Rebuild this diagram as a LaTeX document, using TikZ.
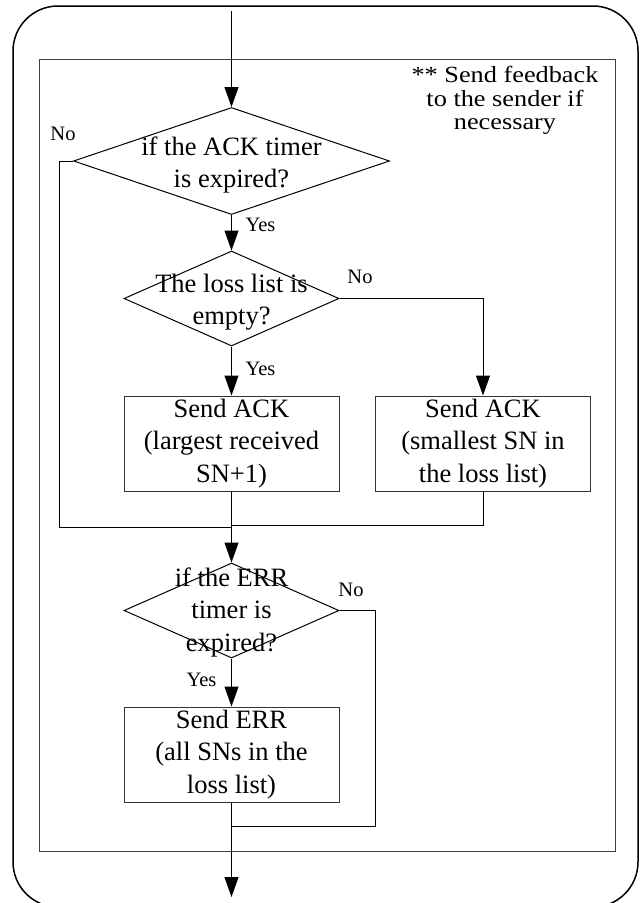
\documentclass[tikz,border=0pt]{standalone}
\usepackage{fontspec}
\setmainfont{Liberation Serif}
\usetikzlibrary{shapes.geometric,arrows.meta}
\begin{document}
\begin{tikzpicture}[x=1pt,y=-1pt,
  line/.style={draw=black,line width=1pt},
  arr/.style={line,-{Triangle[length=20pt,width=14pt]}},
  dia/.style={diamond,draw=black,line width=1pt,inner sep=0pt,minimum width=215pt,minimum height=95pt},
  proc/.style={rectangle,draw=black!80,line width=1pt,inner sep=0pt,minimum width=215pt,minimum height=95pt},
  txt/.style={align=center,font=\fontsize{26.5}{32.5}\selectfont,inner sep=0pt},
  lbl/.style={font=\fontsize{20.5}{24}\selectfont,inner sep=0pt}]
\useasboundingbox (0,0) rectangle (641,903);
\clip (0,0) rectangle (641,903);
\draw[line width=1.5pt,rounded corners=45pt] (13,6) rectangle (638,907);
\draw[draw=black!75,line width=1pt] (39,59) rectangle (615,851);
\node[inner sep=0pt] (note) at (505,101.5) {\scalebox{1}[0.88]{\fontsize{26.3}{26.5}\selectfont\begin{tabular}{@{}c@{}}** Send feedback\\to the sender if\\necessary\end{tabular}}};
\coordinate (start) at (231.5,11);
\node[dia,minimum width=316pt,minimum height=107pt] (d1) at (231.5,161) {};
\node[txt] (t1) at (231.5,165) {if the ACK timer\\is expired?};
\node[dia] (d2) at (231.5,298.5) {};
\node[txt] (t2) at (231.5,302) {The loss list is\\empty?};
\node[proc,txt] (b1) at (231.5,443.5) {Send ACK\\(largest received\\SN+1)};
\node[proc,txt] (b2) at (483,443.5) {Send ACK\\(smallest SN in\\the loss list)};
\node[dia] (d3) at (231.5,610.5) {};
\node[txt] (t3) at (231.5,612) {if the ERR\\timer is\\expired?};
\node[proc,txt] (b3) at (231.5,754.5) {Send ERR\\(all SNs in the\\loss list)};
\coordinate (end) at (231.5,897);
\coordinate (m1) at (231.5,527);
\coordinate (m1b) at (231.5,525);
\coordinate (m2) at (231.5,826);
\coordinate (c1) at (59,527);
\coordinate (c3) at (375,826);
% connectors
\draw[arr] (start) -- (d1.north);
\draw[arr] (d1.south) -- (d2.north);
\draw[line] (d1.west) -| (c1) -- (m1);
\draw[arr] (d2.east) -| (b2.north);
\draw[arr] (d2.south) -- (b1.north);
\draw[line] (b1.south) -- (m1);
\draw[line] (b2.south) |- (m1b);
\draw[arr] (m1) -- (d3.north);
\draw[line] (d3.east) -| (c3) -- (m2);
\draw[arr] (d3.south) -- (b3.north);
\draw[arr] (b3.south) -- (end);
% labels
\node[lbl] (n1) at (63,134) {No};
\node[lbl] (y1) at (260.5,225) {Yes};
\node[lbl] (n2) at (360,277) {No};
\node[lbl] (y2) at (260.5,369) {Yes};
\node[lbl] (n3) at (351,590) {No};
\node[lbl] (y3) at (201.5,680) {Yes};
\end{tikzpicture}
\end{document}
